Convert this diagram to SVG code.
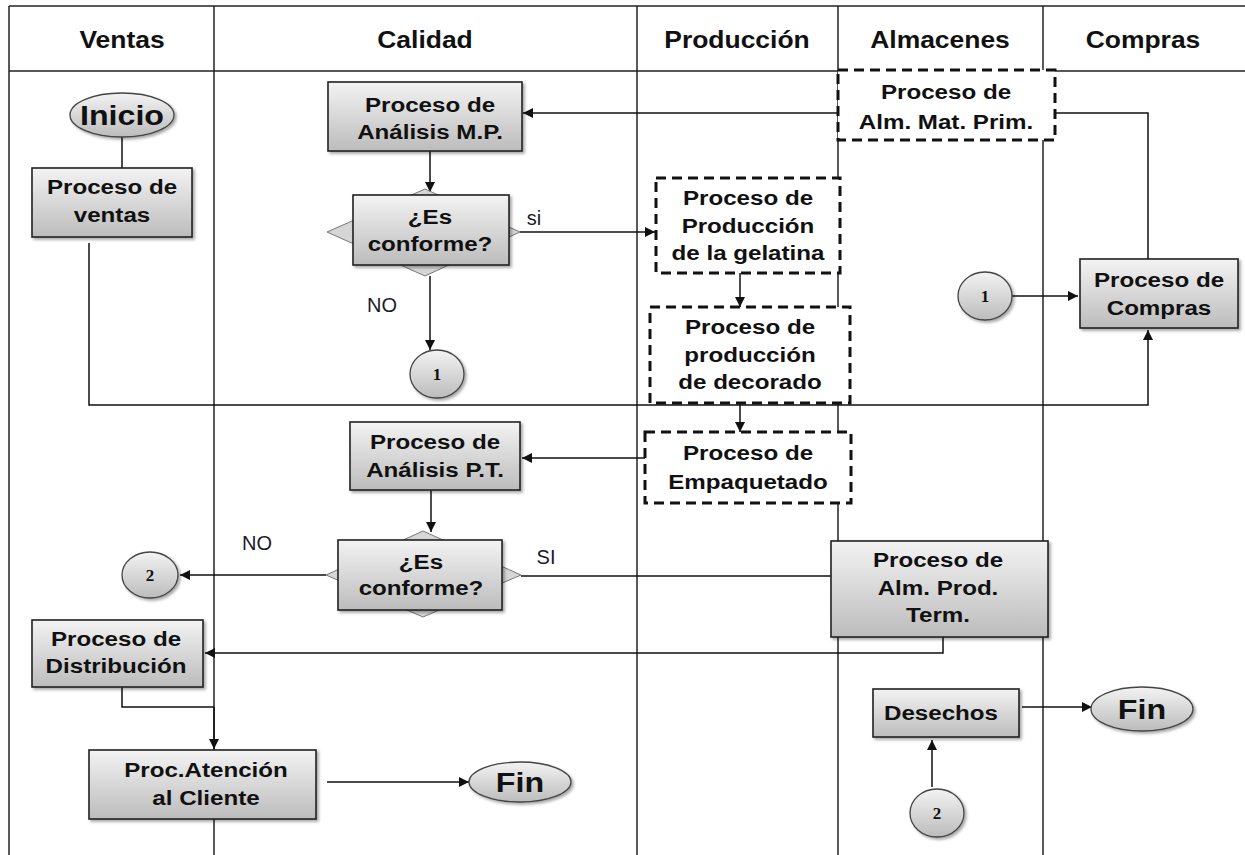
<svg xmlns="http://www.w3.org/2000/svg" width="1245" height="855" viewBox="0 0 1245 855">
<style>
.lane{stroke:#222;stroke-width:1.5;fill:none}
.box{fill:url(#g);stroke:#222;stroke-width:1.6;filter:url(#sh)}
.ell{fill:url(#g);stroke:#444;stroke-width:1.3;filter:url(#sh)}
.dia{fill:#d6d6d6;stroke:#777;stroke-width:1}
.dash{fill:#fff;stroke:#111;stroke-width:3;stroke-dasharray:10 6}
.c{stroke:#111;stroke-width:1.5;fill:none}
.ca{stroke:#111;stroke-width:1.5;fill:none;marker-end:url(#ah)}
text{font-family:"Liberation Sans",Arial,sans-serif;fill:#111;text-anchor:middle}
.h{font-size:23px;font-weight:bold}
.t{font-size:21px;font-weight:bold}
.big{font-size:28px;font-weight:bold}
.lab{font-size:20px;font-weight:normal;fill:#1a1a2a}
.num{font-family:"Liberation Serif","Times New Roman",serif;font-size:17px;font-weight:bold}
</style>
<defs>
<linearGradient id="g" x1="0" y1="0" x2="0" y2="1">
<stop offset="0" stop-color="#f3f3f3"/>
<stop offset="1" stop-color="#bcbcbc"/>
</linearGradient>
<filter id="sh" x="-10%" y="-10%" width="125%" height="130%">
<feDropShadow dx="2" dy="2" stdDeviation="1.5" flood-color="#000" flood-opacity="0.35"/>
</filter>
<marker id="ah" viewBox="0 0 10 10" refX="10" refY="5" markerWidth="11" markerHeight="10" markerUnits="userSpaceOnUse" orient="auto">
<path d="M0,0 L10,5 L0,10 z" fill="#111"/>
</marker>
</defs>
<rect width="1245" height="855" fill="#fff"/>
<g id="lanes">
<line class="lane" x1="9" y1="6" x2="1245" y2="6"/>
<line class="lane" x1="9" y1="71" x2="1245" y2="71"/>
<line class="lane" x1="9" y1="6" x2="9" y2="855"/>
<line class="lane" x1="214" y1="6" x2="214" y2="855"/>
<line class="lane" x1="637" y1="6" x2="637" y2="855"/>
<line class="lane" x1="838" y1="6" x2="838" y2="855"/>
<line class="lane" x1="1043" y1="6" x2="1043" y2="855"/>
<text class="h" transform="translate(122,0) scale(1.15,1)" x="0" y="48">Ventas</text>
<text class="h" transform="translate(425,0) scale(1.15,1)" x="0" y="48">Calidad</text>
<text class="h" transform="translate(737,0) scale(1.15,1)" x="0" y="48">Producción</text>
<text class="h" transform="translate(940,0) scale(1.15,1)" x="0" y="48">Almacenes</text>
<text class="h" transform="translate(1143,0) scale(1.15,1)" x="0" y="48">Compras</text>
</g>
<g id="connectors">
<path class="c" d="M122,137 V168"/>
<path class="ca" d="M89,243 V405 H1148 V330"/>
<path class="ca" d="M838,113 H523"/>
<path class="c" d="M1055,113 H1148 V259"/>
<path class="ca" d="M430,151 V192"/>
<path class="ca" d="M520,232 H655"/>
<path class="ca" d="M430,276 V350"/>
<path class="ca" d="M1012,296 H1078"/>
<path class="ca" d="M740,273 V307"/>
<path class="ca" d="M740,403 V432"/>
<path class="ca" d="M645,458 H522"/>
<path class="ca" d="M431,490 V532"/>
<path class="ca" d="M326,575 H180"/>
<path class="c" d="M521,576 H831"/>
<path class="ca" d="M943,637 V653 H205"/>
<path class="c" d="M122,687 V707 H214"/>
<path class="ca" d="M214,707 V749"/>
<path class="ca" d="M327,782 H469"/>
<path class="ca" d="M1022,707 H1092"/>
<path class="ca" d="M932,787 V740"/>
</g>
<g id="inicio">
<ellipse class="ell" cx="122" cy="115" rx="52" ry="22"/>
<text class="big" transform="translate(122,0) scale(1.15,1)" x="0" y="125">Inicio</text>
</g>
<g id="ventas">
<rect class="box" x="32" y="168" width="160" height="69"/>
<text class="t" transform="translate(112,0) scale(1.15,1)"><tspan x="0" y="194">Proceso de</tspan><tspan x="0" y="222">ventas</tspan></text>
</g>
<g id="analisis-mp">
<rect class="box" x="328" y="82" width="194" height="69"/>
<text class="t" transform="translate(430,0) scale(1.15,1)"><tspan x="0" y="112">Proceso de</tspan><tspan x="0" y="139">Análisis M.P.</tspan></text>
</g>
<g id="decision1">
<polygon class="dia" points="327,232 425,189 520,232 425,276"/>
<rect class="box" x="353" y="195" width="156" height="70"/>
<text class="t" transform="translate(430,0) scale(1.15,1)"><tspan x="0" y="224">¿Es</tspan><tspan x="0" y="251">conforme?</tspan></text>
<text class="lab" x="534" y="225">si</text>
<text class="lab" x="382" y="312">NO</text>
</g>
<g id="conector1a">
<ellipse class="ell" cx="437" cy="374" rx="27" ry="24"/>
<text class="num" x="437" y="380">1</text>
</g>
<g id="alm-mat-prim">
<rect class="dash" x="838" y="70" width="217" height="70"/>
<text class="t" transform="translate(946,0) scale(1.15,1)"><tspan x="0" y="99">Proceso de</tspan><tspan x="0" y="129">Alm. Mat. Prim.</tspan></text>
</g>
<g id="gelatina">
<rect class="dash" x="656" y="178" width="184" height="95"/>
<text class="t" transform="translate(748,0) scale(1.15,1)"><tspan x="0" y="205">Proceso de</tspan><tspan x="0" y="233">Producción</tspan><tspan x="0" y="260">de la gelatina</tspan></text>
</g>
<g id="decorado">
<rect class="dash" x="650" y="307" width="200" height="96"/>
<text class="t" transform="translate(750,0) scale(1.15,1)"><tspan x="0" y="334">Proceso de</tspan><tspan x="0" y="362">producción</tspan><tspan x="0" y="389">de decorado</tspan></text>
</g>
<g id="empaquetado">
<rect class="dash" x="645" y="432" width="206" height="71"/>
<text class="t" transform="translate(748,0) scale(1.15,1)"><tspan x="0" y="460">Proceso de</tspan><tspan x="0" y="489">Empaquetado</tspan></text>
</g>
<g id="compras">
<rect class="box" x="1080" y="259" width="158" height="69"/>
<text class="t" transform="translate(1159,0) scale(1.15,1)"><tspan x="0" y="287">Proceso de</tspan><tspan x="0" y="315">Compras</tspan></text>
</g>
<g id="conector1b">
<ellipse class="ell" cx="985" cy="296" rx="27" ry="24"/>
<text class="num" x="985" y="302">1</text>
</g>
<g id="analisis-pt">
<rect class="box" x="350" y="422" width="170" height="68"/>
<text class="t" transform="translate(435,0) scale(1.15,1)"><tspan x="0" y="449">Proceso de</tspan><tspan x="0" y="477">Análisis P.T.</tspan></text>
</g>
<g id="decision2">
<polygon class="dia" points="326,575 423,531 521,575 423,617"/>
<rect class="box" x="338" y="540" width="164" height="70"/>
<text class="t" transform="translate(421,0) scale(1.15,1)"><tspan x="0" y="569">¿Es</tspan><tspan x="0" y="595">conforme?</tspan></text>
<text class="lab" x="257" y="550">NO</text>
<text class="lab" x="546" y="564">SI</text>
</g>
<g id="conector2a">
<ellipse class="ell" cx="150" cy="575" rx="28" ry="23"/>
<text class="num" x="150" y="581">2</text>
</g>
<g id="alm-prod-term">
<rect class="box" x="831" y="541" width="217" height="96"/>
<text class="t" transform="translate(938,0) scale(1.15,1)"><tspan x="0" y="567">Proceso de</tspan><tspan x="0" y="595">Alm. Prod.</tspan><tspan x="0" y="622">Term.</tspan></text>
</g>
<g id="distribucion">
<rect class="box" x="32" y="620" width="171" height="67"/>
<text class="t" transform="translate(116,0) scale(1.15,1)"><tspan x="0" y="646">Proceso de</tspan><tspan x="0" y="673">Distribución</tspan></text>
</g>
<g id="atencion">
<rect class="box" x="89" y="750" width="227" height="69"/>
<text class="t" transform="translate(206,0) scale(1.15,1)"><tspan x="0" y="777">Proc.Atención</tspan><tspan x="0" y="805">al Cliente</tspan></text>
</g>
<g id="fin1">
<ellipse class="ell" cx="520" cy="782" rx="51" ry="20"/>
<text class="big" transform="translate(520,0) scale(1.15,1)" x="0" y="792">Fin</text>
</g>
<g id="desechos">
<rect class="box" x="873" y="689" width="146" height="48"/>
<text class="t" transform="translate(941,0) scale(1.15,1)" x="0" y="720">Desechos</text>
</g>
<g id="fin2">
<ellipse class="ell" cx="1142" cy="709" rx="51" ry="22"/>
<text class="big" transform="translate(1142,0) scale(1.15,1)" x="0" y="719">Fin</text>
</g>
<g id="conector2b">
<ellipse class="ell" cx="937" cy="813" rx="27" ry="24"/>
<text class="num" x="937" y="819">2</text>
</g>
</svg>
